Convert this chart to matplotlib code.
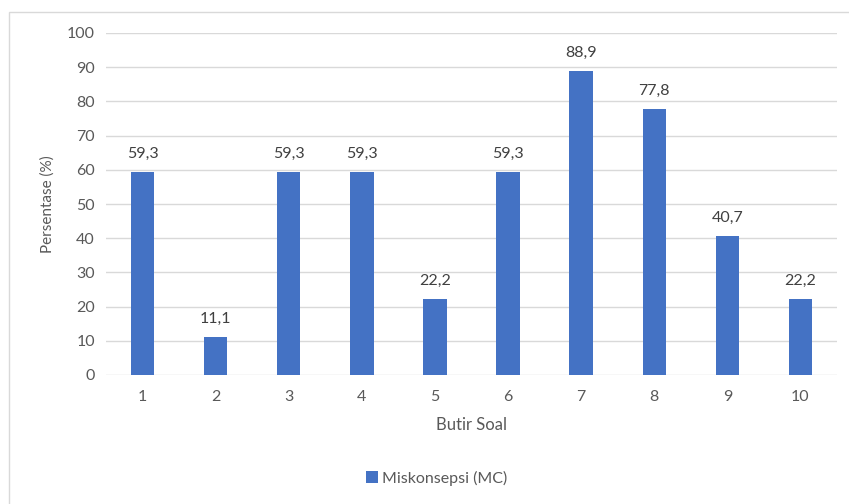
import matplotlib.pyplot as plt
from matplotlib.patches import Rectangle

# data
butir = ['1', '2', '3', '4', '5', '6', '7', '8', '9', '10']
persen = [59.3, 11.1, 59.3, 59.3, 22.2, 59.3, 88.9, 77.8, 40.7, 22.2]

plt.rcParams['font.family'] = ['Lato', 'DejaVu Sans']
biru = '#4472C4'
abu = '#595959'
fs = 11.5

fig = plt.figure(figsize=(8.49, 5.04), dpi=100, facecolor='w')
# bingkai chart
fig.patches.append(Rectangle((9/849, -0.1), 1.0, 1 - 12/504 + 0.1, transform=fig.transFigure,
                             fill=False, edgecolor='#D9D9D9', linewidth=1.0))

ax = fig.add_axes([106/849, 1 - 375/504, (837 - 106)/849, (375 - 33)/504])
x = range(len(butir))
bars = ax.bar(x, persen, width=0.32, color=biru, label='Miskonsepsi (MC)', zorder=3)

for xi, v in zip(x, persen):
    ax.text(xi, v + 3.3, f'{v:.1f}'.replace('.', ','), ha='center', va='bottom',
            fontsize=fs, color='#404040')

ax.set_xlim(-0.5, len(butir) - 0.5)
ax.set_ylim(0, 100)
ax.set_yticks(range(0, 101, 10))
ax.set_xticks(list(x))
ax.set_xticklabels(butir)
ax.grid(axis='y', color='#D9D9D9', linewidth=1.0, zorder=0)
for s in ax.spines.values():
    s.set_visible(False)
ax.tick_params(length=0, labelsize=fs, colors=abu, pad=8)
ax.tick_params(axis='x', pad=11)
ax.set_xlabel('Butir Soal', fontsize=fs + 0.5, color=abu, labelpad=9)
ax.set_ylabel('Persentase (%)', fontsize=11, color=abu, labelpad=9)

fig.legend(handles=[bars], labels=['Miskonsepsi (MC)'], loc='center',
           bbox_to_anchor=(437/849, 1 - 478/504), frameon=False, fontsize=fs,
           labelcolor=abu, handlelength=0.7, handleheight=0.7, handletextpad=0.3)

fig.savefig('out.png', dpi=100)
